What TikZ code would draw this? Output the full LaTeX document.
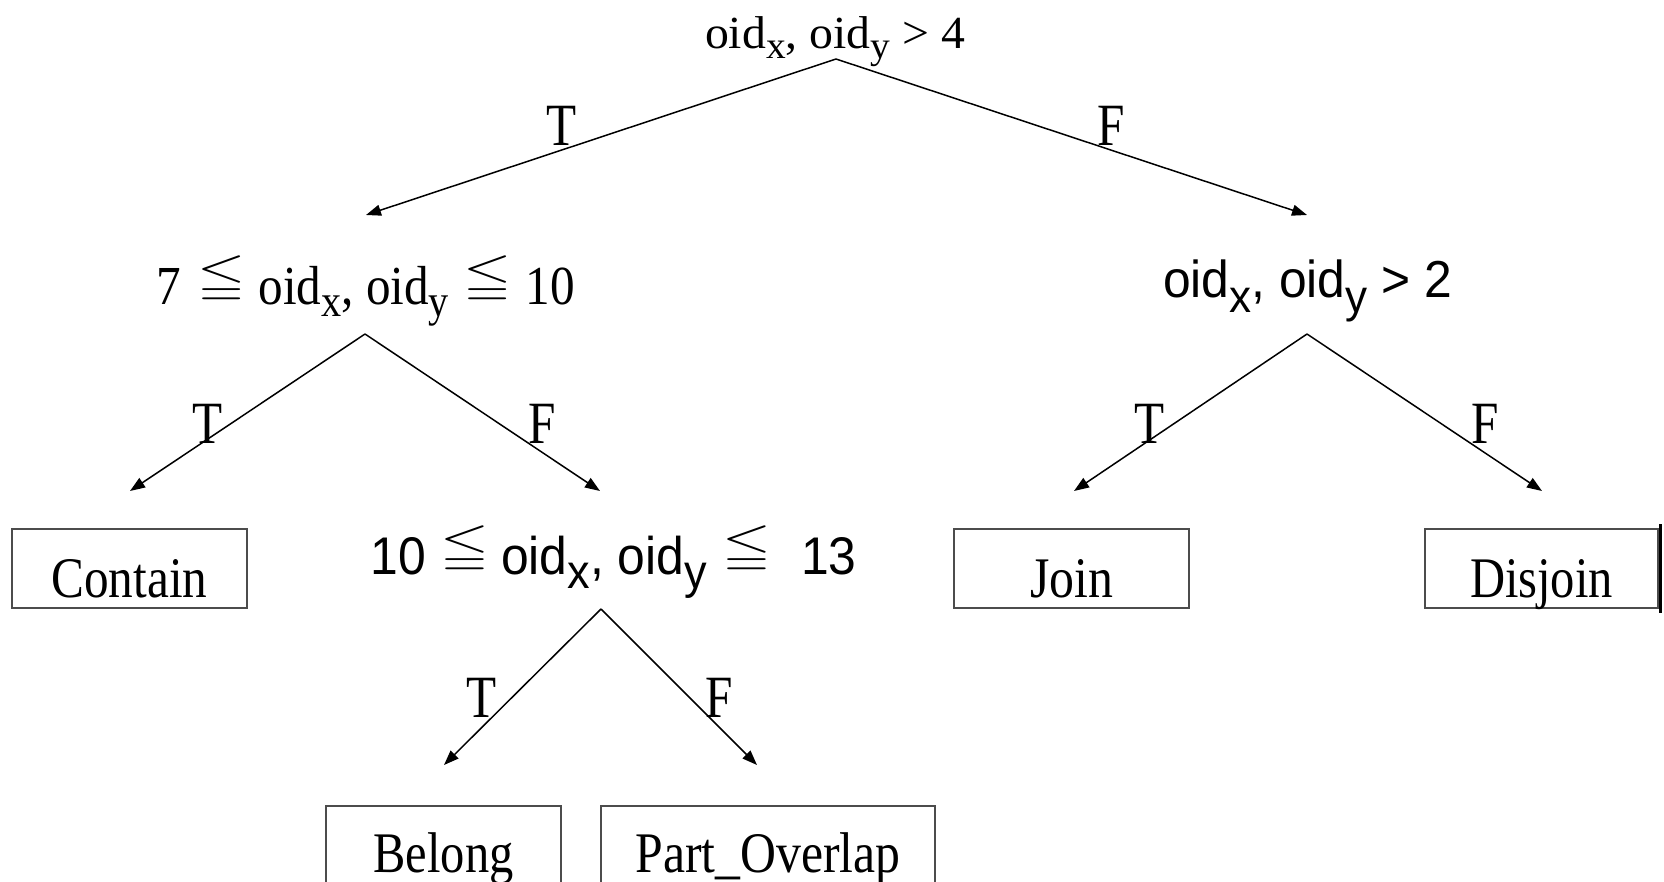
\documentclass[tikz,border=0pt]{standalone}
\usepackage{fontspec}
\usepackage{amssymb}
\usepackage{graphicx}
\setmainfont{Liberation Serif}
\newfontfamily\arialf{Liberation Sans}
\usetikzlibrary{arrows.meta}
\newcommand\lesq[2]{\raisebox{\depth}{\resizebox*{#1}{#2}{$\leqq$}}}
\newcommand\subs[3]{\raisebox{-#1}{\fontsize{#2}{#2}\selectfont #3}}
\newcommand\tfl[1]{\scalebox{0.82}[1]{#1}}
\newcommand\lf[2]{\resizebox{#1}{\height}{\fontsize{28.7pt}{28.7pt}\selectfont #2}}
\begin{document}
\begin{tikzpicture}[x=0.5pt,y=-0.5pt,
  edge/.style={line width=0.75pt, -{Triangle[length=7.5pt,width=5.5pt]}},
  txt/.style={anchor=base, inner sep=0pt, outer sep=0pt},
  leafbox/.style={draw=black!70, line width=0.75pt, inner sep=0pt, align=center},
  tf/.style={anchor=base, inner sep=0pt, font=\fontsize{30pt}{30pt}\selectfont},
]
\useasboundingbox (0,0) rectangle (1664,882);
\clip (0,0) rectangle (1664,882);

% condition texts
\node[txt] (root) at (835,49) {\resizebox{130pt}{\height}{\fontsize{23pt}{23pt}\selectfont oid\subs{5pt}{19pt}{x}, oid\subs{5pt}{19pt}{y} > 4}};
\node[txt] (l2) at (366,304) {\resizebox{209pt}{\height}{\fontsize{27.5pt}{27.5pt}\selectfont 7\hspace{9pt}\lesq{27pt}{24pt}\hspace{7pt}oid\subs{6pt}{22.5pt}{x}, oid\subs{6pt}{22.5pt}{y}\hspace{8pt}\lesq{27pt}{24pt}\hspace{8pt}10}};
\node[txt] (r2) at (1307.5,298) {\resizebox{144.5pt}{\height}{\arialf\fontsize{26pt}{26pt}\selectfont oid\subs{7pt}{23pt}{x}, oid\subs{7pt}{23pt}{y} > 2}};
\node[txt] (b3) at (613.5,574) {\resizebox{243pt}{\height}{\arialf\fontsize{26.5pt}{26.5pt}\selectfont 10\hspace{8pt}\lesq{26pt}{24pt}\hspace{6pt}oid\subs{7pt}{24pt}{x}, oid\subs{7pt}{24pt}{y}\hspace{8pt}\lesq{26pt}{24pt}\hspace{16pt}13}};

% leaves
\node[leafbox, minimum width=117.5pt, text height=34pt, text depth=5.5pt] (contain) at (129.5,568.5) {\lf{78pt}{Contain}};
\node[leafbox, minimum width=117.5pt, text height=34pt, text depth=5.5pt] (join) at (1071.5,568.5) {\lf{41.5pt}{Join}};
\node[leafbox, minimum width=116.5pt, text height=34pt, text depth=5.5pt] (disjoin) at (1541.5,568.5) {\lf{71.5pt}{Disjoin}};
\node[leafbox, minimum width=117.5pt, text height=33.5pt, text depth=11.5pt, anchor=north] (belong) at (443.5,805) {\lf{70pt}{Belong}};
\node[leafbox, minimum width=167pt, text height=33.5pt, text depth=11.5pt, anchor=north] (part) at (768,805) {\lf{132.5pt}{Part\_Overlap}};
\draw[line width=1.5pt] ([xshift=1pt,yshift=2pt]disjoin.north east) -- ([xshift=1pt,yshift=-2pt]disjoin.south east);

% connector end points
\coordinate (rootS) at (836,59);
\coordinate (rootL) at (366,215);
\coordinate (rootR) at (1307,215);
\coordinate (l2S) at (365,334);
\coordinate (l2L) at (130,491);
\coordinate (l2R) at (600,491);
\coordinate (r2S) at (1307,334);
\coordinate (r2L) at (1074,491);
\coordinate (r2R) at (1542,491);
\coordinate (b3S) at (601,609);
\coordinate (b3L) at (444,765);
\coordinate (b3R) at (757,765);

\draw[edge] (rootS) -- (rootL);
\draw[edge] (rootS) -- (rootR);
\draw[edge] (l2S) -- (l2L);
\draw[edge] (l2S) -- (l2R);
\draw[edge] (r2S) -- (r2L);
\draw[edge] (r2S) -- (r2R);
\draw[edge] (b3S) -- (b3L);
\draw[edge] (b3S) -- (b3R);

% T / F labels
\node[tf] (t1) at (562,146) {\tfl{T}};
\node[tf] (f1) at (1111,146) {\tfl{F}};
\node[tf] (t2) at (208,443) {\tfl{T}};
\node[tf] (f2) at (542,443) {\tfl{F}};
\node[tf] (t3) at (1150,443) {\tfl{T}};
\node[tf] (f3) at (1485,443) {\tfl{F}};
\node[tf] (t4) at (482,717) {\tfl{T}};
\node[tf] (f4) at (719,717) {\tfl{F}};
\end{tikzpicture}
\end{document}
